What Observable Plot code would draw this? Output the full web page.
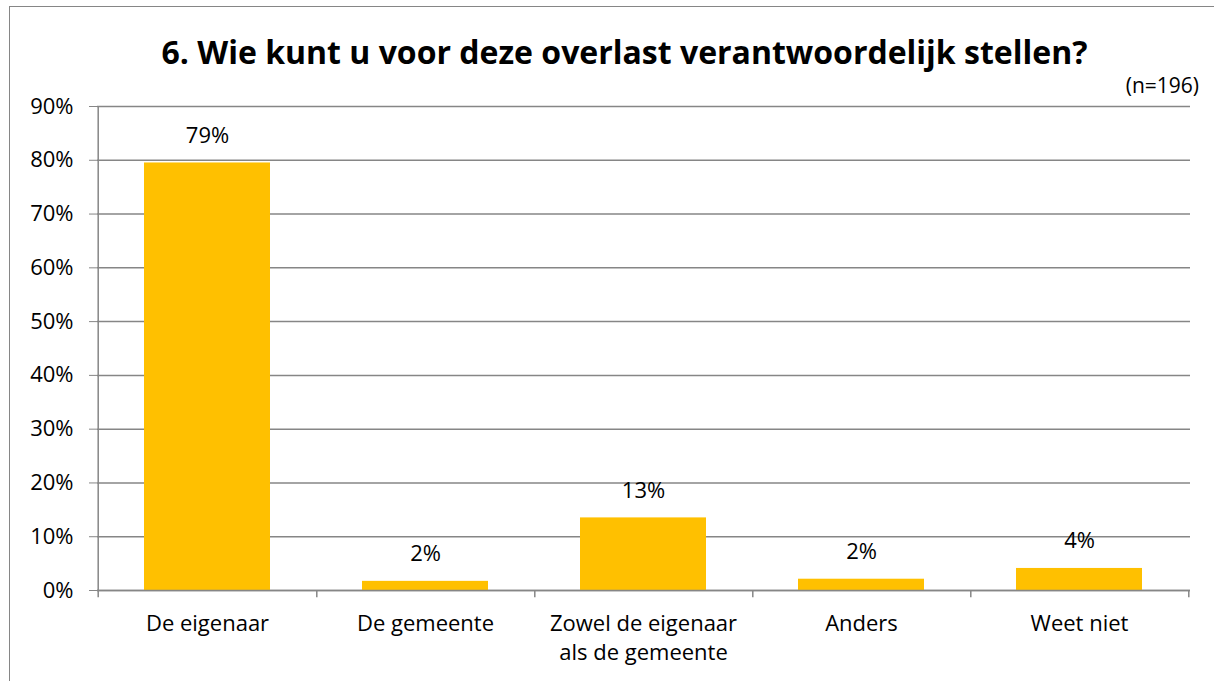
<!DOCTYPE html>
<html><head><meta charset="utf-8">
<script src="https://cdn.jsdelivr.net/npm/d3@7"></script>
<script src="https://cdn.jsdelivr.net/npm/@observablehq/plot@0.6"></script>
<style>
body{margin:0;background:#fff;font-family:"Open Sans",sans-serif;}
#wrap{position:relative;width:1214px;height:681px;overflow:hidden;}
#frame{position:absolute;left:9px;top:6px;width:1220px;height:700px;border:1.5px solid #868686;box-sizing:border-box;}
#title{position:absolute;left:0;width:1249px;top:30px;text-align:center;font-weight:bold;font-size:32px;line-height:44px;color:#000;}
#n{position:absolute;right:15px;top:71px;font-size:21px;line-height:28px;color:#000;}
#chart{position:absolute;left:0;top:0;}
</style></head>
<body><div id="wrap"><div id="frame"></div><div id="chart"></div>
<div id="title">6. Wie kunt u voor deze overlast verantwoordelijk stellen?</div>
<div id="n">(n=196)</div></div>
<script>
const categories = ["De eigenaar","De gemeente","Zowel de eigenaar\nals de gemeente","Anders","Weet niet"];
const values = [79.5, 1.7, 13.5, 2.1, 4.1];
const labels = ["79%","2%","13%","2%","4%"];
const yTicks = [0,10,20,30,40,50,60,70,80,90];

const data = categories.map((c,i)=>({cat:c, v:values[i], label:labels[i]}));
const W = 1214, H = 681, mL = 97, mR = 24, mT = 106, mB = 91;
const step = (W - mL - mR) / categories.length;
const FS = 22;

const chart = Plot.plot({
  width: W, height: H,
  marginLeft: mL, marginRight: mR, marginTop: mT, marginBottom: mB,
  style: {fontFamily: "'Open Sans', sans-serif", fontSize: FS + "px", color: "#000", background: "transparent"},
  x: {domain: categories, paddingInner: 0.42, paddingOuter: 0.21, label: null},
  y: {domain: [0, 90], label: null},
  marks: [
    Plot.ruleY(yTicks, {stroke: "#868686", strokeWidth: 1.5, strokeOpacity: 1}),
    Plot.ruleX([categories[0]], {dx: -step/2, y1: 0, y2: 90, stroke: "#868686", strokeWidth: 1.5}),
    Plot.ruleX([categories[0]], {dx: -step/2, y1: 0, y2: -1.35, stroke: "#868686", strokeWidth: 1.5}),
    Plot.ruleX(categories, {dx: step/2, y1: 0, y2: -1.35, stroke: "#868686", strokeWidth: 1.5}),
    Plot.barY(data, {x: "cat", y: "v", fill: "#FFC000"}),
    Plot.ruleY([0], {stroke: "#868686", strokeWidth: 1.5}),
    Plot.text(data, {x: "cat", y: "v", text: "label", dy: -27, fill: "#000", fontSize: FS}),
    Plot.axisY({ticks: yTicks, tickFormat: d => d + "%", tickSize: 8, tickPadding: 16, stroke: "#868686", strokeOpacity: 1, fontSize: FS, label: null}),
    Plot.axisX({tickSize: 0, tickPadding: 19, fontSize: FS, lineHeight: 1.35, label: null})
  ]
});
document.getElementById("chart").appendChild(chart);
</script></body></html>
